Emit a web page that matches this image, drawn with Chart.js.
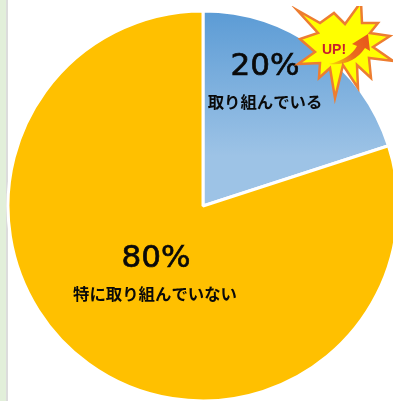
<!DOCTYPE html>
<html>
<head>
<meta charset="utf-8">
<style>
html, body { margin: 0; padding: 0; width: 393px; height: 401px; overflow: hidden; background: #fff; }
#strip { position: absolute; left: 0; top: 0; width: 6px; height: 401px; background: #e2efda; border-right: 2px solid #dcdcdc; }
#wrap { position: absolute; left: 3px; top: 6px; width: 400px; height: 400px; }
</style>
<script src="https://cdn.jsdelivr.net/npm/chart.js@4"></script>
</head>
<body>
<div id="strip"></div>
<div id="wrap"><canvas id="pieChart" width="400" height="400"></canvas></div>
<script>
var categories = ['取り組んでいる', '特に取り組んでいない'];
var values = [20, 80];
var badgeText = 'UP!';

// outline of the burst badge, canvas coordinates
var burst = [[294,4],[317,17],[331,7],[342,18],[358,-4],[359,17],[375,17],[367,27],[387,30],[370,41],[390,55],[366,52],[368,72],[354,59],[355,82],[340,59],[332,92],[327,62],[316,72],[317,57],[295,58],[312,46],[297,33],[315,27]];

var labelsPlugin = {
	id: 'pieLabels',
	afterDatasetsDraw: function(chart) {
		var ctx = chart.ctx;
		ctx.save();
		ctx.textAlign = 'center';
		ctx.textBaseline = 'middle';
		ctx.fillStyle = '#0a0a0a';
		ctx.strokeStyle = '#0a0a0a';

		// percent and name on each slice
		ctx.font = '31px "DejaVu Sans"';
		ctx.lineWidth = 0.7;
		ctx.fillText(values[0] + '%', 262, 61);
		ctx.strokeText(values[0] + '%', 262, 61);
		ctx.fillText(values[1] + '%', 153, 253);
		ctx.strokeText(values[1] + '%', 153, 253);
		ctx.font = 'bold 16.4px "Noto Sans CJK JP"';
		ctx.fillText(categories[0], 262, 96);
		ctx.fillText(categories[1], 152, 288);

		// burst
		ctx.beginPath();
		for (var i = 0; i < burst.length; i++) {
			if (i == 0) ctx.moveTo(burst[i][0], burst[i][1]);
			else ctx.lineTo(burst[i][0], burst[i][1]);
		}
		ctx.closePath();
		ctx.fillStyle = '#ffff00';
		ctx.fill();
		ctx.lineWidth = 2.5;
		ctx.lineJoin = 'miter';
		ctx.strokeStyle = '#ed7d31';
		ctx.stroke();

		// arrow inside the burst, tail fading out
		var g = ctx.createLinearGradient(327, 58, 365, 30);
		g.addColorStop(0, 'rgba(232,100,27,0.25)');
		g.addColorStop(0.5, '#ea6a1f');
		g.addColorStop(1, '#e8581a');
		ctx.beginPath();
		ctx.moveTo(326, 58);
		ctx.quadraticCurveTo(347, 53, 354, 40);
		ctx.lineTo(349, 38);
		ctx.lineTo(365, 28);
		ctx.lineTo(367, 45);
		ctx.lineTo(362, 42);
		ctx.quadraticCurveTo(350, 60, 326, 58);
		ctx.closePath();
		ctx.fillStyle = g;
		ctx.fill();

		ctx.font = 'bold 14px "Liberation Sans Narrow", "Liberation Sans"';
		ctx.fillStyle = '#c8202c';
		ctx.fillText(badgeText, 331, 44);
		ctx.restore();
	}
};

var chartdata = {
	labels: categories,
	datasets: [
		{
			data: values,
			backgroundColor: function(c) {
				if (c.dataIndex == 1) return '#ffc000';
				var g = c.chart.ctx.createLinearGradient(0, 4, 0, 150);
				g.addColorStop(0, '#5b9bd5');
				g.addColorStop(1, '#9dc3e6');
				return g;
			},
			borderColor: '#ffffff',
			borderWidth: 3
		}
	]
};

var options = {
	responsive: false,
	animation: false,
	layout: { padding: 3.5 },
	plugins: {
		legend: { display: false },
		tooltip: { enabled: false }
	}
};

var pieChart = new Chart(document.getElementById('pieChart'), {
	type: 'pie',
	data: chartdata,
	options: options,
	plugins: [labelsPlugin]
});
</script>
</body>
</html>
